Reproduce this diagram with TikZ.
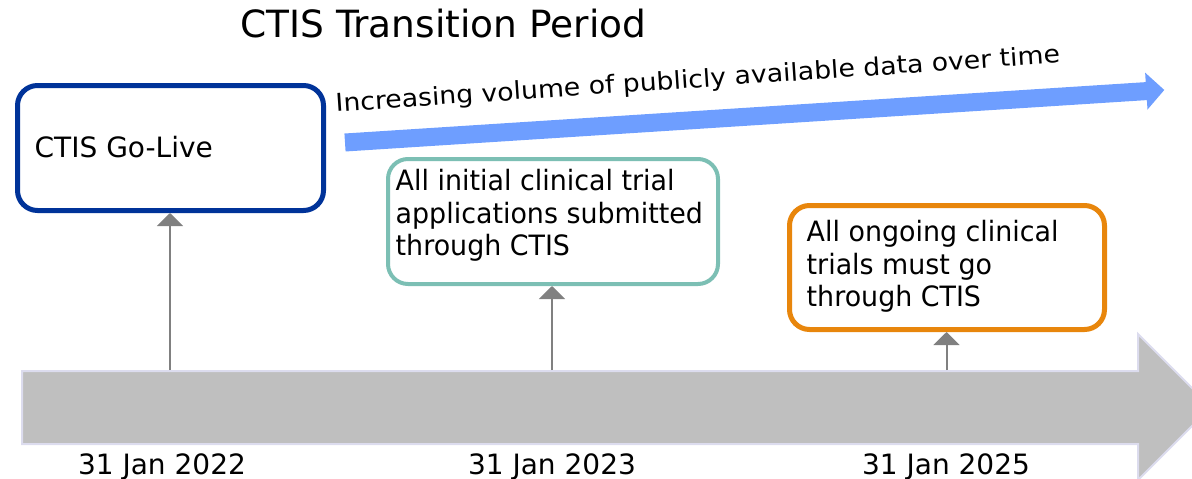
\documentclass[tikz,border=0pt]{standalone}
\usepackage{fontspec}
\setmainfont{DejaVu Sans}
\usetikzlibrary{arrows.meta}

\definecolor{boxblue}{HTML}{003399}
\definecolor{boxteal}{HTML}{7CBFB4}
\definecolor{boxorange}{HTML}{E8860C}
\definecolor{flowblue}{HTML}{6E9EFF}
\definecolor{barfill}{HTML}{BFBFBF}
\definecolor{baredge}{HTML}{DCDCEE}
\definecolor{tickgrey}{HTML}{808080}

\tikzset{
  milestone/.style={draw, fill=white, rectangle, rounded corners=20pt, inner sep=0pt},
  % multi-line texts are placed by the baseline of their last line
  boxtext/.style={anchor=base west, inner sep=0pt, align=left,
    font=\fontsize{28}{32.4}\selectfont},
  narrow/.style={xscale=0.96, transform shape},
  datelabel/.style={anchor=base, inner sep=0pt, font=\fontsize{28}{32.4}\selectfont},
  tick/.style={draw=tickgrey, line width=2pt, -{Triangle[length=13pt,width=26pt]}},
}

\begin{document}
\begin{tikzpicture}[x=1pt, y=-1pt]
\useasboundingbox (0,0) rectangle (1192,479);
\clip (0,0) rectangle (1192,479);

% title
\node[anchor=base west, inner sep=0pt, font=\fontsize{37.5}{40}\selectfont]
  (title) at (240,37.3) {CTIS Transition Period};

% rising data-volume arrow with its caption
\begin{scope}[shift={(345,142.5)}, rotate=3.67]
  \fill[flowblue] (0,-9) -- (803,-9) -- (803,-18.5) -- (821,0)
    -- (803,18.5) -- (803,9) -- (0,9) -- cycle;
\end{scope}
\node[anchor=base west, inner sep=0pt, rotate=3.88,
  font=\fontsize{24.6}{28}\selectfont] (volume) at (336,112)
  {\scalebox{1.085}[1]{Increasing volume of publicly available data over time}};

% timeline bar
\fill[barfill, draw=baredge, line width=2pt]
  (22,371) -- (1138,371) -- (1138,334) -- (1211,407) -- (1138,480)
  -- (1138,444) -- (22,444) -- cycle;

% tick positions on the timeline
\coordinate (t1) at (170,370);
\coordinate (t2) at (552,370);
\coordinate (t3) at (946.5,370);

% milestone boxes
\node[milestone, draw=boxblue, line width=5pt, minimum width=306pt, minimum height=125pt]
  (golive) at (170.5,148) {};
\node[milestone, draw=boxteal, line width=4pt, minimum width=330pt, minimum height=125pt]
  (initial) at (553,221.5) {};
\node[milestone, draw=boxorange, line width=5pt, minimum width=315pt, minimum height=124pt]
  (ongoing) at (947,267.5) {};

\node[boxtext] (golivetext) at (34.5,157) {CTIS Go-Live};
\node[boxtext, narrow] (initialtext) at (395.5,255.5)
  {All initial clinical trial\\applications submitted\\through CTIS};
\node[boxtext, narrow] (ongoingtext) at (806.5,306.5)
  {All ongoing clinical\\trials must go\\through CTIS};

% ticks from the timeline up to the boxes
\draw[tick] (t1) -- (t1 |- golive.south);
\draw[tick] (t2) -- (t2 |- initial.south);
\draw[tick] (t3) -- (t3 |- ongoing.south);

% dates
\node[datelabel] (d1) at (162,474) {31 Jan 2022};
\node[datelabel] (d2) at (552,474) {31 Jan 2023};
\node[datelabel] (d3) at (946,474) {31 Jan 2025};
\end{tikzpicture}
\end{document}
